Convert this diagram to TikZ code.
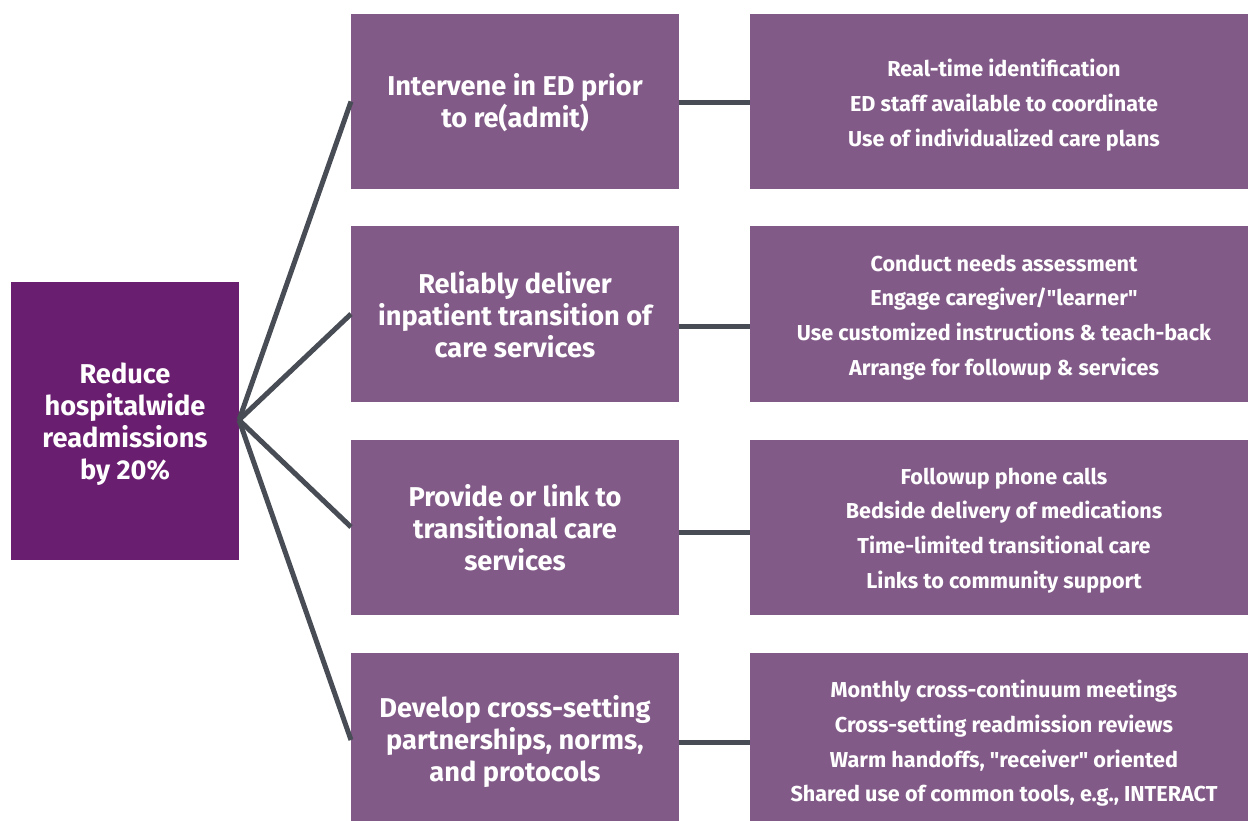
\documentclass[tikz,border=0pt]{standalone}
\usepackage{fontspec}
\setmainfont{Fira Sans}[Ligatures=TeXOff]
\definecolor{goalc}{HTML}{6A1E6F}
\definecolor{boxc}{HTML}{825A88}
\definecolor{linec}{HTML}{474C55}
\begin{document}
\begin{tikzpicture}[x=1pt,y=-1pt,
  base/.style={rectangle,inner sep=0pt,outer sep=0pt},
  goal/.style={base,fill=goalc,minimum width=228pt,minimum height=278pt},
  driver/.style={base,fill=boxc,minimum width=328pt,minimum height=175pt},
  idea/.style={base,fill=boxc,minimum width=498pt,minimum height=175pt},
  bigtxt/.style={inner sep=0pt,text=white,align=center,font=\fontsize{27.2}{32}\bfseries},
  smalltxt/.style={inner sep=0pt,text=white,align=center,font=\fontsize{21.6}{34.7}\bfseries},
  link/.style={draw=linec,line width=5pt}]
\useasboundingbox (0,0) rectangle (1248,821);
\node[goal] (g) at (125,421) {};
\node[driver] (m1) at (515,101.5) {};
\node[driver] (m2) at (515,314) {};
\node[driver] (m3) at (515,527) {};
\node[driver] (m4) at (515,740) {};
\node[idea] (r1) at (999,101.5) {};
\node[idea] (r2) at (999,314) {};
\node[idea] (r3) at (999,527) {};
\node[idea] (r4) at (999,740) {};
\node[bigtxt] (gt) at ([yshift=-3pt]g.center) {Reduce\\hospitalwide\\readmissions\\by 20\%};
\node[bigtxt] (mt1) at ([yshift=-1pt]m1.center) {Intervene in ED prior\\to re(admit)};
\node[bigtxt] (mt2) at ([yshift=-1pt]m2.center) {Reliably deliver\\inpatient transition of\\care services};
\node[bigtxt] (mt3) at ([yshift=-1pt]m3.center) {Provide or link to\\transitional care\\services};
\node[bigtxt] (mt4) at ([yshift=-1pt]m4.center) {Develop cross-setting\\partnerships, norms,\\and protocols};
\node[smalltxt] (rt1) at ([xshift=5pt,yshift=-3.5pt]r1.center) {Real-time identification\\ED staff available to coordinate\\Use of individualized care plans};
\node[smalltxt] (rt2) at ([xshift=5pt,yshift=-3.5pt]r2.center) {Conduct needs assessment\\Engage caregiver/"learner"\\Use customized instructions \& teach-back\\Arrange for followup \& services};
\node[smalltxt] (rt3) at ([xshift=5pt,yshift=-3.5pt]r3.center) {Followup phone calls\\Bedside delivery of medications\\Time-limited transitional care\\Links to community support};
\node[smalltxt] (rt4) at ([xshift=5pt,yshift=-3.5pt]r4.center) {Monthly cross-continuum meetings\\Cross-setting readmission reviews\\Warm handoffs, "receiver" oriented\\Shared use of common tools, e.g., INTERACT};
\coordinate (hub) at (g.east |- 0,420);
\foreach \m in {m1,m2,m3,m4}{\draw[link] (hub) -- (\m.west);}
\draw[link] (m1.east |- 0,103) -- (r1.west |- 0,103);
\draw[link] (m2.east |- 0,326) -- (r2.west |- 0,326);
\draw[link] (m3.east |- 0,532.5) -- (r3.west |- 0,532.5);
\draw[link] (m4.east |- 0,742.5) -- (r4.west |- 0,742.5);
\end{tikzpicture}
\end{document}
